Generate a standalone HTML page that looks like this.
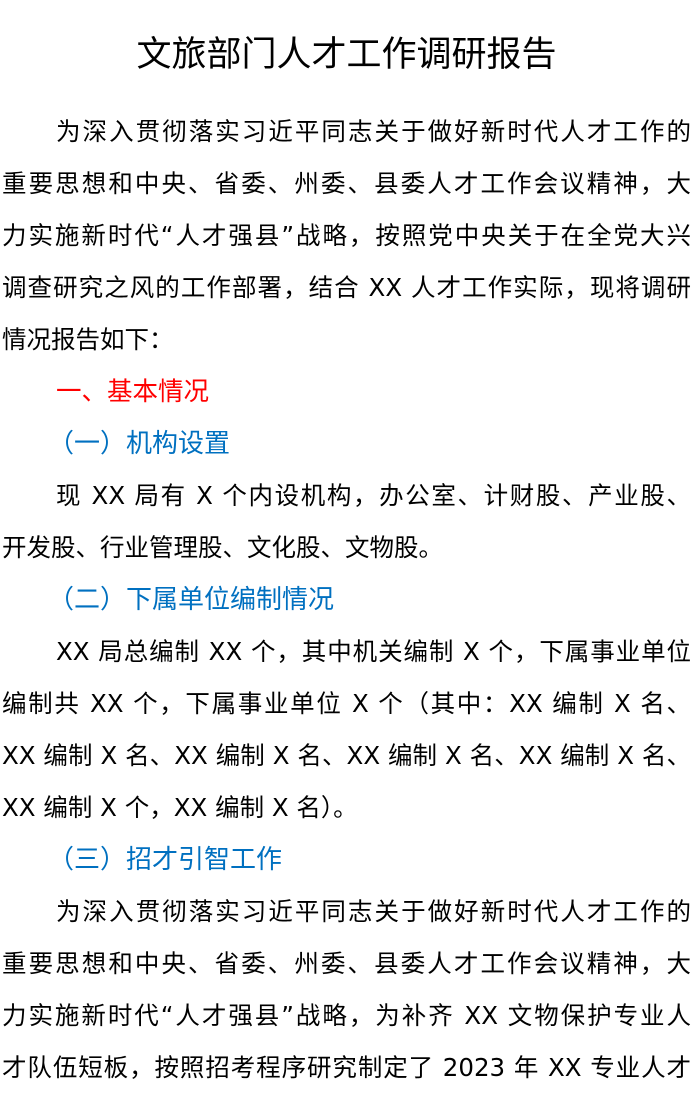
<!DOCTYPE html>
<html><head><meta charset="utf-8"><style>
html,body{margin:0;padding:0;background:#fff;width:693px;height:1097px;overflow:hidden}
body{font-family:"DejaVu Sans","Noto Sans CJK SC","WenQuanYi Zen Hei",sans-serif;color:#000}
.t{position:absolute;top:26px;left:0;width:693px;text-align:center;font-size:35px;line-height:52px;font-family:"Noto Sans CJK SC","WenQuanYi Zen Hei",sans-serif}
.w{position:absolute;top:106px;left:2px;width:689px}
.l{height:52px;line-height:52px;font-size:24.5px;white-space:nowrap;text-align:justify;text-align-last:justify}
.e{text-align-last:left;text-align:left}
.i{padding-left:54px}
.r{color:#ff0000;font-size:25.5px}
.b{color:#0070c0;padding-left:46px;font-size:26px}
</style></head><body>
<div class="t">文旅部门人才工作调研报告</div>
<div class="w">
<div class="l i">为深入贯彻落实习近平同志关于做好新时代人才工作的</div>
<div class="l">重要思想和中央、省委、州委、县委人才工作会议精神，大</div>
<div class="l">力实施新时代“人才强县”战略，按照党中央关于在全党大兴</div>
<div class="l">调查研究之风的工作部署，结合 XX 人才工作实际，现将调研</div>
<div class="l e">情况报告如下：</div>
<div class="l e i r">一、基本情况</div>
<div class="l e b">（一）机构设置</div>
<div class="l i">现 XX 局有 X 个内设机构，办公室、计财股、产业股、</div>
<div class="l e">开发股、行业管理股、文化股、文物股。</div>
<div class="l e b">（二）下属单位编制情况</div>
<div class="l i">XX 局总编制 XX 个，其中机关编制 X 个，下属事业单位</div>
<div class="l">编制共 XX 个，下属事业单位 X 个（其中：XX 编制 X 名、</div>
<div class="l">XX 编制 X 名、XX 编制 X 名、XX 编制 X 名、XX 编制 X 名、</div>
<div class="l e">XX 编制 X 个，XX 编制 X 名）。</div>
<div class="l e b">（三）招才引智工作</div>
<div class="l i">为深入贯彻落实习近平同志关于做好新时代人才工作的</div>
<div class="l">重要思想和中央、省委、州委、县委人才工作会议精神，大</div>
<div class="l">力实施新时代“人才强县”战略，为补齐 XX 文物保护专业人</div>
<div class="l">才队伍短板，按照招考程序研究制定了 2023 年 XX 专业人才</div>
</div>
</body></html>
